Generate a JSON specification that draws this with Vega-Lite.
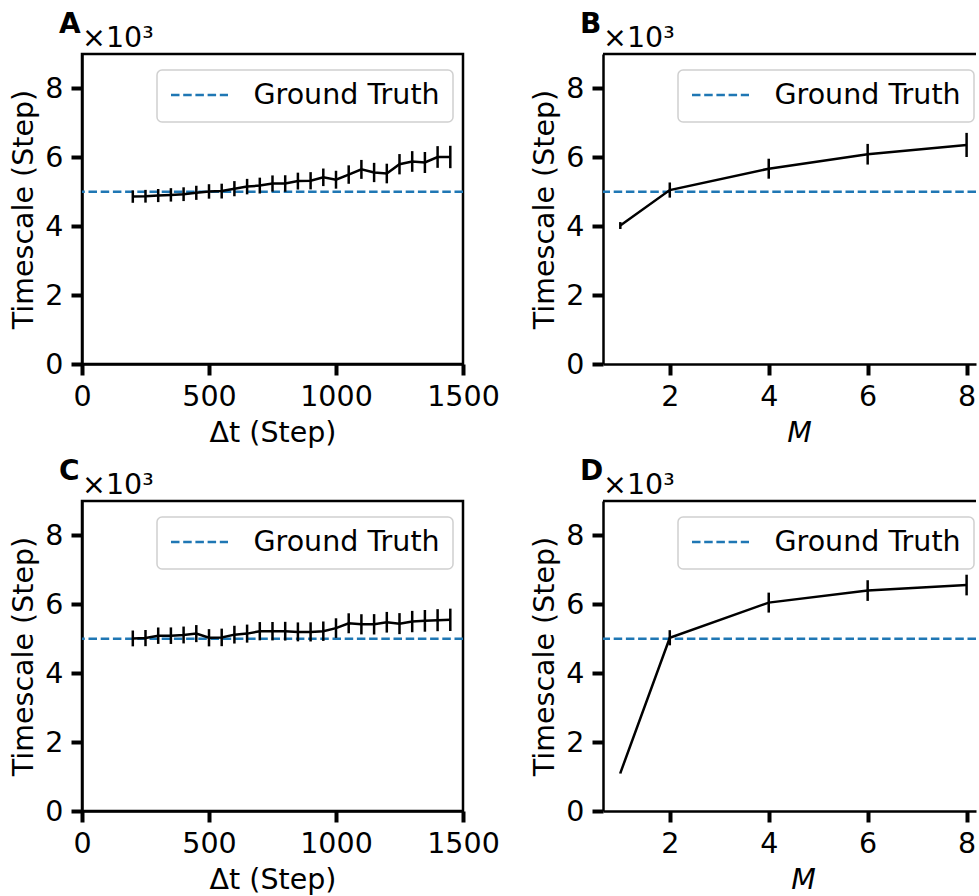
{
  "$schema": "https://vega.github.io/schema/vega-lite/v6.json",
  "padding": {"left": 8, "top": 9, "right": 0, "bottom": 0},
  "datasets": {
    "A": [
      {"x": 200, "y": 4860, "lo": 4680, "hi": 5040},
      {"x": 250, "y": 4870, "lo": 4685, "hi": 5055},
      {"x": 300, "y": 4890, "lo": 4700, "hi": 5080},
      {"x": 350, "y": 4910, "lo": 4715, "hi": 5105},
      {"x": 400, "y": 4930, "lo": 4730, "hi": 5130},
      {"x": 450, "y": 4970, "lo": 4765, "hi": 5175},
      {"x": 500, "y": 5010, "lo": 4800, "hi": 5220},
      {"x": 550, "y": 5020, "lo": 4805, "hi": 5235},
      {"x": 600, "y": 5090, "lo": 4870, "hi": 5310},
      {"x": 650, "y": 5150, "lo": 4925, "hi": 5375},
      {"x": 700, "y": 5180, "lo": 4950, "hi": 5410},
      {"x": 750, "y": 5240, "lo": 5005, "hi": 5475},
      {"x": 800, "y": 5240, "lo": 5000, "hi": 5480},
      {"x": 850, "y": 5310, "lo": 5065, "hi": 5555},
      {"x": 900, "y": 5320, "lo": 5070, "hi": 5570},
      {"x": 950, "y": 5420, "lo": 5165, "hi": 5675},
      {"x": 1000, "y": 5350, "lo": 5090, "hi": 5610},
      {"x": 1050, "y": 5500, "lo": 5232, "hi": 5768},
      {"x": 1100, "y": 5650, "lo": 5375, "hi": 5925},
      {"x": 1150, "y": 5560, "lo": 5280, "hi": 5840},
      {"x": 1200, "y": 5530, "lo": 5245, "hi": 5815},
      {"x": 1250, "y": 5800, "lo": 5505, "hi": 6095},
      {"x": 1300, "y": 5880, "lo": 5580, "hi": 6180},
      {"x": 1350, "y": 5850, "lo": 5545, "hi": 6155},
      {"x": 1400, "y": 6010, "lo": 5695, "hi": 6325},
      {"x": 1450, "y": 6010, "lo": 5685, "hi": 6335}
    ],
    "B": [
      {"x": 1, "y": 4020, "lo": 3920, "hi": 4120},
      {"x": 2, "y": 5050, "lo": 4830, "hi": 5270},
      {"x": 4, "y": 5670, "lo": 5380, "hi": 5960},
      {"x": 6, "y": 6090, "lo": 5790, "hi": 6390},
      {"x": 8, "y": 6360, "lo": 6010, "hi": 6710}
    ],
    "C": [
      {"x": 200, "y": 5010, "lo": 4780, "hi": 5240},
      {"x": 250, "y": 5020, "lo": 4785, "hi": 5255},
      {"x": 300, "y": 5090, "lo": 4852, "hi": 5328},
      {"x": 350, "y": 5090, "lo": 4850, "hi": 5330},
      {"x": 400, "y": 5110, "lo": 4865, "hi": 5355},
      {"x": 450, "y": 5150, "lo": 4902, "hi": 5398},
      {"x": 500, "y": 5030, "lo": 4780, "hi": 5280},
      {"x": 550, "y": 5040, "lo": 4785, "hi": 5295},
      {"x": 600, "y": 5120, "lo": 4862, "hi": 5378},
      {"x": 650, "y": 5150, "lo": 4888, "hi": 5412},
      {"x": 700, "y": 5220, "lo": 4955, "hi": 5485},
      {"x": 750, "y": 5220, "lo": 4952, "hi": 5488},
      {"x": 800, "y": 5220, "lo": 4948, "hi": 5492},
      {"x": 850, "y": 5200, "lo": 4925, "hi": 5475},
      {"x": 900, "y": 5200, "lo": 4922, "hi": 5478},
      {"x": 950, "y": 5220, "lo": 4938, "hi": 5502},
      {"x": 1000, "y": 5310, "lo": 5025, "hi": 5595},
      {"x": 1050, "y": 5450, "lo": 5160, "hi": 5740},
      {"x": 1100, "y": 5420, "lo": 5127, "hi": 5713},
      {"x": 1150, "y": 5420, "lo": 5124, "hi": 5716},
      {"x": 1200, "y": 5480, "lo": 5180, "hi": 5780},
      {"x": 1250, "y": 5440, "lo": 5135, "hi": 5745},
      {"x": 1300, "y": 5500, "lo": 5190, "hi": 5810},
      {"x": 1350, "y": 5520, "lo": 5205, "hi": 5835},
      {"x": 1400, "y": 5540, "lo": 5220, "hi": 5860},
      {"x": 1450, "y": 5550, "lo": 5225, "hi": 5875}
    ],
    "D": [
      {"x": 1, "y": 1100, "lo": 1090, "hi": 1110},
      {"x": 2, "y": 5030, "lo": 4810, "hi": 5250},
      {"x": 4, "y": 6050, "lo": 5760, "hi": 6340},
      {"x": 6, "y": 6400, "lo": 6100, "hi": 6700},
      {"x": 8, "y": 6560, "lo": 6260, "hi": 6860}
    ],
    "GT": [{"v": 5000}],
    "TOP": [{"v": 9000}],
    "MULT": [{"label": "×10³"}]
  },
  "concat": [
    {
      "width": 381, "height": 310,
      "title": "A",
      "layer": [
        {
          "data": {"name": "GT"},
          "mark": {"type": "rule", "strokeDash": [8.5, 3.7], "strokeWidth": 2.4},
          "encoding": {
            "y": {"field": "v", "type": "quantitative", "scale": {"domain": [0, 9000], "nice": false}},
            "color": {"datum": "Ground Truth", "type": "nominal", "scale": {"range": ["#1f77b4"]}}
          }
        },
        {
          "data": {"name": "A"},
          "mark": {"type": "rule", "color": "black", "strokeWidth": 2.5},
          "encoding": {
            "x": {"field": "x", "type": "quantitative", "scale": {"domain": [0, 1500], "nice": false, "zero": false}, "axis": {"values": [0, 500, 1000, 1500], "format": "d", "title": "Δt (Step)"}},
            "y": {"field": "lo", "type": "quantitative", "scale": {"domain": [0, 9000], "nice": false}, "axis": {"values": [0, 2000, 4000, 6000, 8000], "labelExpr": "datum.value/1000", "title": "Timescale (Step)"}},
            "y2": {"field": "hi"}
          }
        },
        {
          "data": {"name": "A"},
          "mark": {"type": "line", "color": "black", "strokeWidth": 2.5},
          "encoding": {
            "x": {"field": "x", "type": "quantitative"},
            "y": {"field": "y", "type": "quantitative"}
          }
        },
        {
          "data": {"name": "MULT"},
          "mark": {"type": "text", "align": "left", "baseline": "alphabetic", "dy": -7, "fontSize": 28.5, "color": "black"},
          "encoding": {
            "x": {"datum": 0, "type": "quantitative"},
            "y": {"datum": 9000, "type": "quantitative"},
            "text": {"field": "label"}
          }
        }
      ]
    },
    {
      "width": 373, "height": 310,
      "view": {"stroke": null},
      "title": "B",
      "layer": [
        {
          "data": {"name": "GT"},
          "mark": {"type": "rule", "strokeDash": [8.5, 3.7], "strokeWidth": 2.4},
          "encoding": {
            "y": {"field": "v", "type": "quantitative", "scale": {"domain": [0, 9000], "nice": false}},
            "color": {"datum": "Ground Truth", "type": "nominal", "scale": {"range": ["#1f77b4"]}}
          }
        },
        {
          "data": {"name": "TOP"},
          "mark": {"type": "rule", "color": "black", "strokeWidth": 2.5},
          "encoding": {
            "y": {"field": "v", "type": "quantitative"}
          }
        },
        {
          "data": {"name": "B"},
          "mark": {"type": "rule", "color": "black", "strokeWidth": 2.5},
          "encoding": {
            "x": {"field": "x", "type": "quantitative", "scale": {"domain": [0.65, 8.19], "nice": false, "zero": false}, "axis": {"values": [2, 4, 6, 8], "title": "M", "titleFontStyle": "italic", "titleX": 196}},
            "y": {"field": "lo", "type": "quantitative", "scale": {"domain": [0, 9000], "nice": false}, "axis": {"values": [0, 2000, 4000, 6000, 8000], "labelExpr": "datum.value/1000", "title": "Timescale (Step)"}},
            "y2": {"field": "hi"}
          }
        },
        {
          "data": {"name": "B"},
          "mark": {"type": "line", "color": "black", "strokeWidth": 2.5},
          "encoding": {
            "x": {"field": "x", "type": "quantitative"},
            "y": {"field": "y", "type": "quantitative"}
          }
        },
        {
          "data": {"name": "MULT"},
          "mark": {"type": "text", "align": "left", "baseline": "alphabetic", "dy": -7, "fontSize": 28.5, "color": "black"},
          "encoding": {
            "x": {"datum": 0.65, "type": "quantitative"},
            "y": {"datum": 9000, "type": "quantitative"},
            "text": {"field": "label"}
          }
        }
      ]
    },
    {
      "width": 381, "height": 310,
      "title": "C",
      "layer": [
        {
          "data": {"name": "GT"},
          "mark": {"type": "rule", "strokeDash": [8.5, 3.7], "strokeWidth": 2.4},
          "encoding": {
            "y": {"field": "v", "type": "quantitative", "scale": {"domain": [0, 9000], "nice": false}},
            "color": {"datum": "Ground Truth", "type": "nominal", "scale": {"range": ["#1f77b4"]}}
          }
        },
        {
          "data": {"name": "C"},
          "mark": {"type": "rule", "color": "black", "strokeWidth": 2.5},
          "encoding": {
            "x": {"field": "x", "type": "quantitative", "scale": {"domain": [0, 1500], "nice": false, "zero": false}, "axis": {"values": [0, 500, 1000, 1500], "format": "d", "title": "Δt (Step)"}},
            "y": {"field": "lo", "type": "quantitative", "scale": {"domain": [0, 9000], "nice": false}, "axis": {"values": [0, 2000, 4000, 6000, 8000], "labelExpr": "datum.value/1000", "title": "Timescale (Step)"}},
            "y2": {"field": "hi"}
          }
        },
        {
          "data": {"name": "C"},
          "mark": {"type": "line", "color": "black", "strokeWidth": 2.5},
          "encoding": {
            "x": {"field": "x", "type": "quantitative"},
            "y": {"field": "y", "type": "quantitative"}
          }
        },
        {
          "data": {"name": "MULT"},
          "mark": {"type": "text", "align": "left", "baseline": "alphabetic", "dy": -7, "fontSize": 28.5, "color": "black"},
          "encoding": {
            "x": {"datum": 0, "type": "quantitative"},
            "y": {"datum": 9000, "type": "quantitative"},
            "text": {"field": "label"}
          }
        }
      ]
    },
    {
      "width": 373, "height": 310,
      "view": {"stroke": null},
      "title": "D",
      "layer": [
        {
          "data": {"name": "GT"},
          "mark": {"type": "rule", "strokeDash": [8.5, 3.7], "strokeWidth": 2.4},
          "encoding": {
            "y": {"field": "v", "type": "quantitative", "scale": {"domain": [0, 9000], "nice": false}},
            "color": {"datum": "Ground Truth", "type": "nominal", "scale": {"range": ["#1f77b4"]}}
          }
        },
        {
          "data": {"name": "TOP"},
          "mark": {"type": "rule", "color": "black", "strokeWidth": 2.5},
          "encoding": {
            "y": {"field": "v", "type": "quantitative"}
          }
        },
        {
          "data": {"name": "D"},
          "mark": {"type": "rule", "color": "black", "strokeWidth": 2.5},
          "encoding": {
            "x": {"field": "x", "type": "quantitative", "scale": {"domain": [0.65, 8.19], "nice": false, "zero": false}, "axis": {"values": [2, 4, 6, 8], "title": "M", "titleFontStyle": "italic", "titleX": 200}},
            "y": {"field": "lo", "type": "quantitative", "scale": {"domain": [0, 9000], "nice": false}, "axis": {"values": [0, 2000, 4000, 6000, 8000], "labelExpr": "datum.value/1000", "title": "Timescale (Step)"}},
            "y2": {"field": "hi"}
          }
        },
        {
          "data": {"name": "D"},
          "mark": {"type": "line", "color": "black", "strokeWidth": 2.5},
          "encoding": {
            "x": {"field": "x", "type": "quantitative"},
            "y": {"field": "y", "type": "quantitative"}
          }
        },
        {
          "data": {"name": "MULT"},
          "mark": {"type": "text", "align": "left", "baseline": "alphabetic", "dy": -7, "fontSize": 28.5, "color": "black"},
          "encoding": {
            "x": {"datum": 0.65, "type": "quantitative"},
            "y": {"datum": 9000, "type": "quantitative"},
            "text": {"field": "label"}
          }
        }
      ]
    }
  ],
  "columns": 2,
  "spacing": {"row": 137, "column": 140},
  "bounds": "flush",
  "resolve": {"scale": {"color": "independent"}, "legend": {"color": "independent"}},
  "config": {
    "font": "DejaVu Sans",
    "background": "white",
    "view": {"stroke": "black", "strokeWidth": 2.5},
    "text": {"font": "DejaVu Sans"},
    "axis": {
      "domain": true, "domainColor": "black", "domainWidth": 2.5,
      "ticks": true, "tickColor": "black", "tickWidth": 4, "tickSize": 11,
      "labelFont": "DejaVu Sans", "labelFontSize": 28.5, "labelColor": "black",
      "labelFlush": false, "labelOverlap": false, "labelBound": false,
      "titleFont": "DejaVu Sans", "titleFontSize": 28.5, "titleFontWeight": "normal", "titleColor": "black",
      "grid": false
    },
    "axisY": {"titlePadding": 6, "labelPadding": 8},
    "axisX": {"titlePadding": 8, "labelPadding": 7},
    "legend": {
      "orient": "none", "legendX": 75, "legendY": 16, "title": null,
      "fillColor": "white", "strokeColor": "#d0d0d0", "strokeWidth": 1.5, "cornerRadius": 5,
      "padding": 12.5, "labelFont": "DejaVu Sans", "labelFontSize": 28.5, "labelColor": "black", "labelLimit": 400,
      "symbolType": "stroke", "symbolSize": 3249, "symbolStrokeWidth": 2.4, "symbolDash": [8.5, 3.7],
      "labelOffset": 24, "clipHeight": 25
    },
    "title": {
      "anchor": "start", "frame": "group", "dx": -23, "offset": -15, "baseline": "alphabetic",
      "font": "DejaVu Sans", "fontSize": 28, "fontWeight": "bold", "color": "black"
    }
  }
}
